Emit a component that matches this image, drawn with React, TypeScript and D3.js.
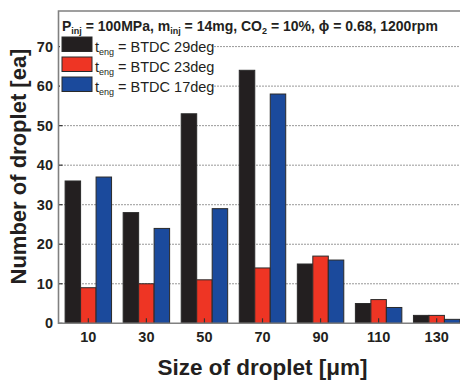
import React from "react";
import * as d3 from "d3";

const sizes = [10, 30, 50, 70, 90, 110, 130];
const btdc29 = [36, 28, 53, 64, 15, 5, 2];
const btdc23 = [9, 10, 11, 14, 17, 6, 2];
const btdc17 = [37, 24, 29, 58, 16, 4, 1];
const seriesNames = ["29deg", "23deg", "17deg"];
const seriesColors = ["#231f20", "#ee3524", "#1b4a9c"];
const yTicks = [0, 10, 20, 30, 40, 50, 60, 70];

const font = "'Liberation Sans', Arial, Helvetica, sans-serif";

const App = () => {
  const width = 460;
  const height = 383;
  const left = 58.5;
  const top = 11;
  const bottom = 323.3;

  const xScale = d3.scaleLinear().domain([0, 140]).range([59.3, 465.7]);
  const yScale = d3.scaleLinear().domain([0, 79]).range([bottom, top]);
  const barW = xScale(16 / 3) - xScale(0);

  const series = [btdc29, btdc23, btdc17];

  return (
    <svg
      width={width}
      height={height}
      style={{ position: "absolute", left: 0, top: 0, background: "#fff" }}
      fontFamily={font}
    >
      {/* grid */}
      <g>
        {yTicks.slice(1).map((t) => (
          <line
            key={t}
            x1={left}
            x2={width}
            y1={yScale(t)}
            y2={yScale(t)}
            stroke="#333"
            strokeWidth={1}
            strokeDasharray="1 2"
          />
        ))}
      </g>
      {/* bars */}
      <g>
        {series.map((vals, si) =>
          vals.map((v, i) => {
            const x0 = xScale(sizes[i]) + (si - 1.5) * barW;
            return (
              <rect
                key={si + "-" + i}
                x={x0}
                y={yScale(v)}
                width={barW}
                height={yScale(0) - yScale(v)}
                fill={seriesColors[si]}
                stroke="#2a2a2a"
                strokeWidth={1}
              />
            );
          })
        )}
      </g>
      {/* x ticks */}
      <g>
        {sizes.map((s) => (
          <g key={s}>
            <line
              x1={xScale(s)}
              x2={xScale(s)}
              y1={bottom}
              y2={bottom - 5}
              stroke="#333"
              strokeWidth={1.2}
            />
            <text
              x={xScale(s)}
              y={342}
              textAnchor="middle"
              fontSize={14.5}
              fontWeight="bold"
              fill="#231f20"
            >
              {s}
            </text>
          </g>
        ))}
      </g>
      {/* y ticks */}
      <g>
        {yTicks.map((t) => (
          <g key={t}>
            <line
              x1={left}
              x2={left + 4}
              y1={yScale(t)}
              y2={yScale(t)}
              stroke="#333"
              strokeWidth={1.2}
            />
            <text
              x={53}
              y={yScale(t) + 5}
              textAnchor="end"
              fontSize={14.5}
              fontWeight="bold"
              fill="#231f20"
            >
              {t}
            </text>
          </g>
        ))}
      </g>
      {/* frame */}
      <path
        d={`M${width},${top}H${left}V${bottom}H${width}`}
        fill="none"
        stroke="#808080"
        strokeWidth={1.6}
      />
      {/* legend */}
      <g>
        <rect x={60} y={33} width={154} height={61} fill="#fff" />
        {seriesNames.map((name, i) => (
          <g key={name} transform={`translate(0, ${i * 20})`}>
            <rect
              x={62}
              y={37}
              width={30}
              height={14.5}
              fill={seriesColors[i]}
              stroke="#2a2a2a"
              strokeWidth={1}
            />
            <text x={95} y={52} fontSize={14.5} fill="#231f20">
              t
              <tspan fontSize={9} dy={3}>
                eng
              </tspan>
              <tspan dy={-3}> = BTDC {name}</tspan>
            </text>
          </g>
        ))}
      </g>
      {/* title */}
      <text x={62} y={31} fontSize={14} fontWeight="bold" fill="#231f20">
        P<tspan fontSize={9} dy={3}>inj</tspan>
        <tspan dy={-3}> = 100MPa, m</tspan>
        <tspan fontSize={9} dy={3}>inj</tspan>
        <tspan dy={-3}> = 14mg, CO</tspan>
        <tspan fontSize={9} dy={3}>2</tspan>
        <tspan dy={-3}> = 10%, ϕ = 0.68, 1200rpm</tspan>
      </text>
      {/* axis titles */}
      <text
        transform={`translate(26, 166.5) rotate(-90)`}
        textAnchor="middle"
        fontSize={22}
        fontWeight="bold"
        fill="#231f20"
      >
        Number of droplet [ea]
      </text>
      <text
        x={262.5}
        y={375}
        textAnchor="middle"
        fontSize={22.5}
        fontWeight="bold"
        fill="#231f20"
      >
        Size of droplet [μm]
      </text>
    </svg>
  );
};

export default App;
